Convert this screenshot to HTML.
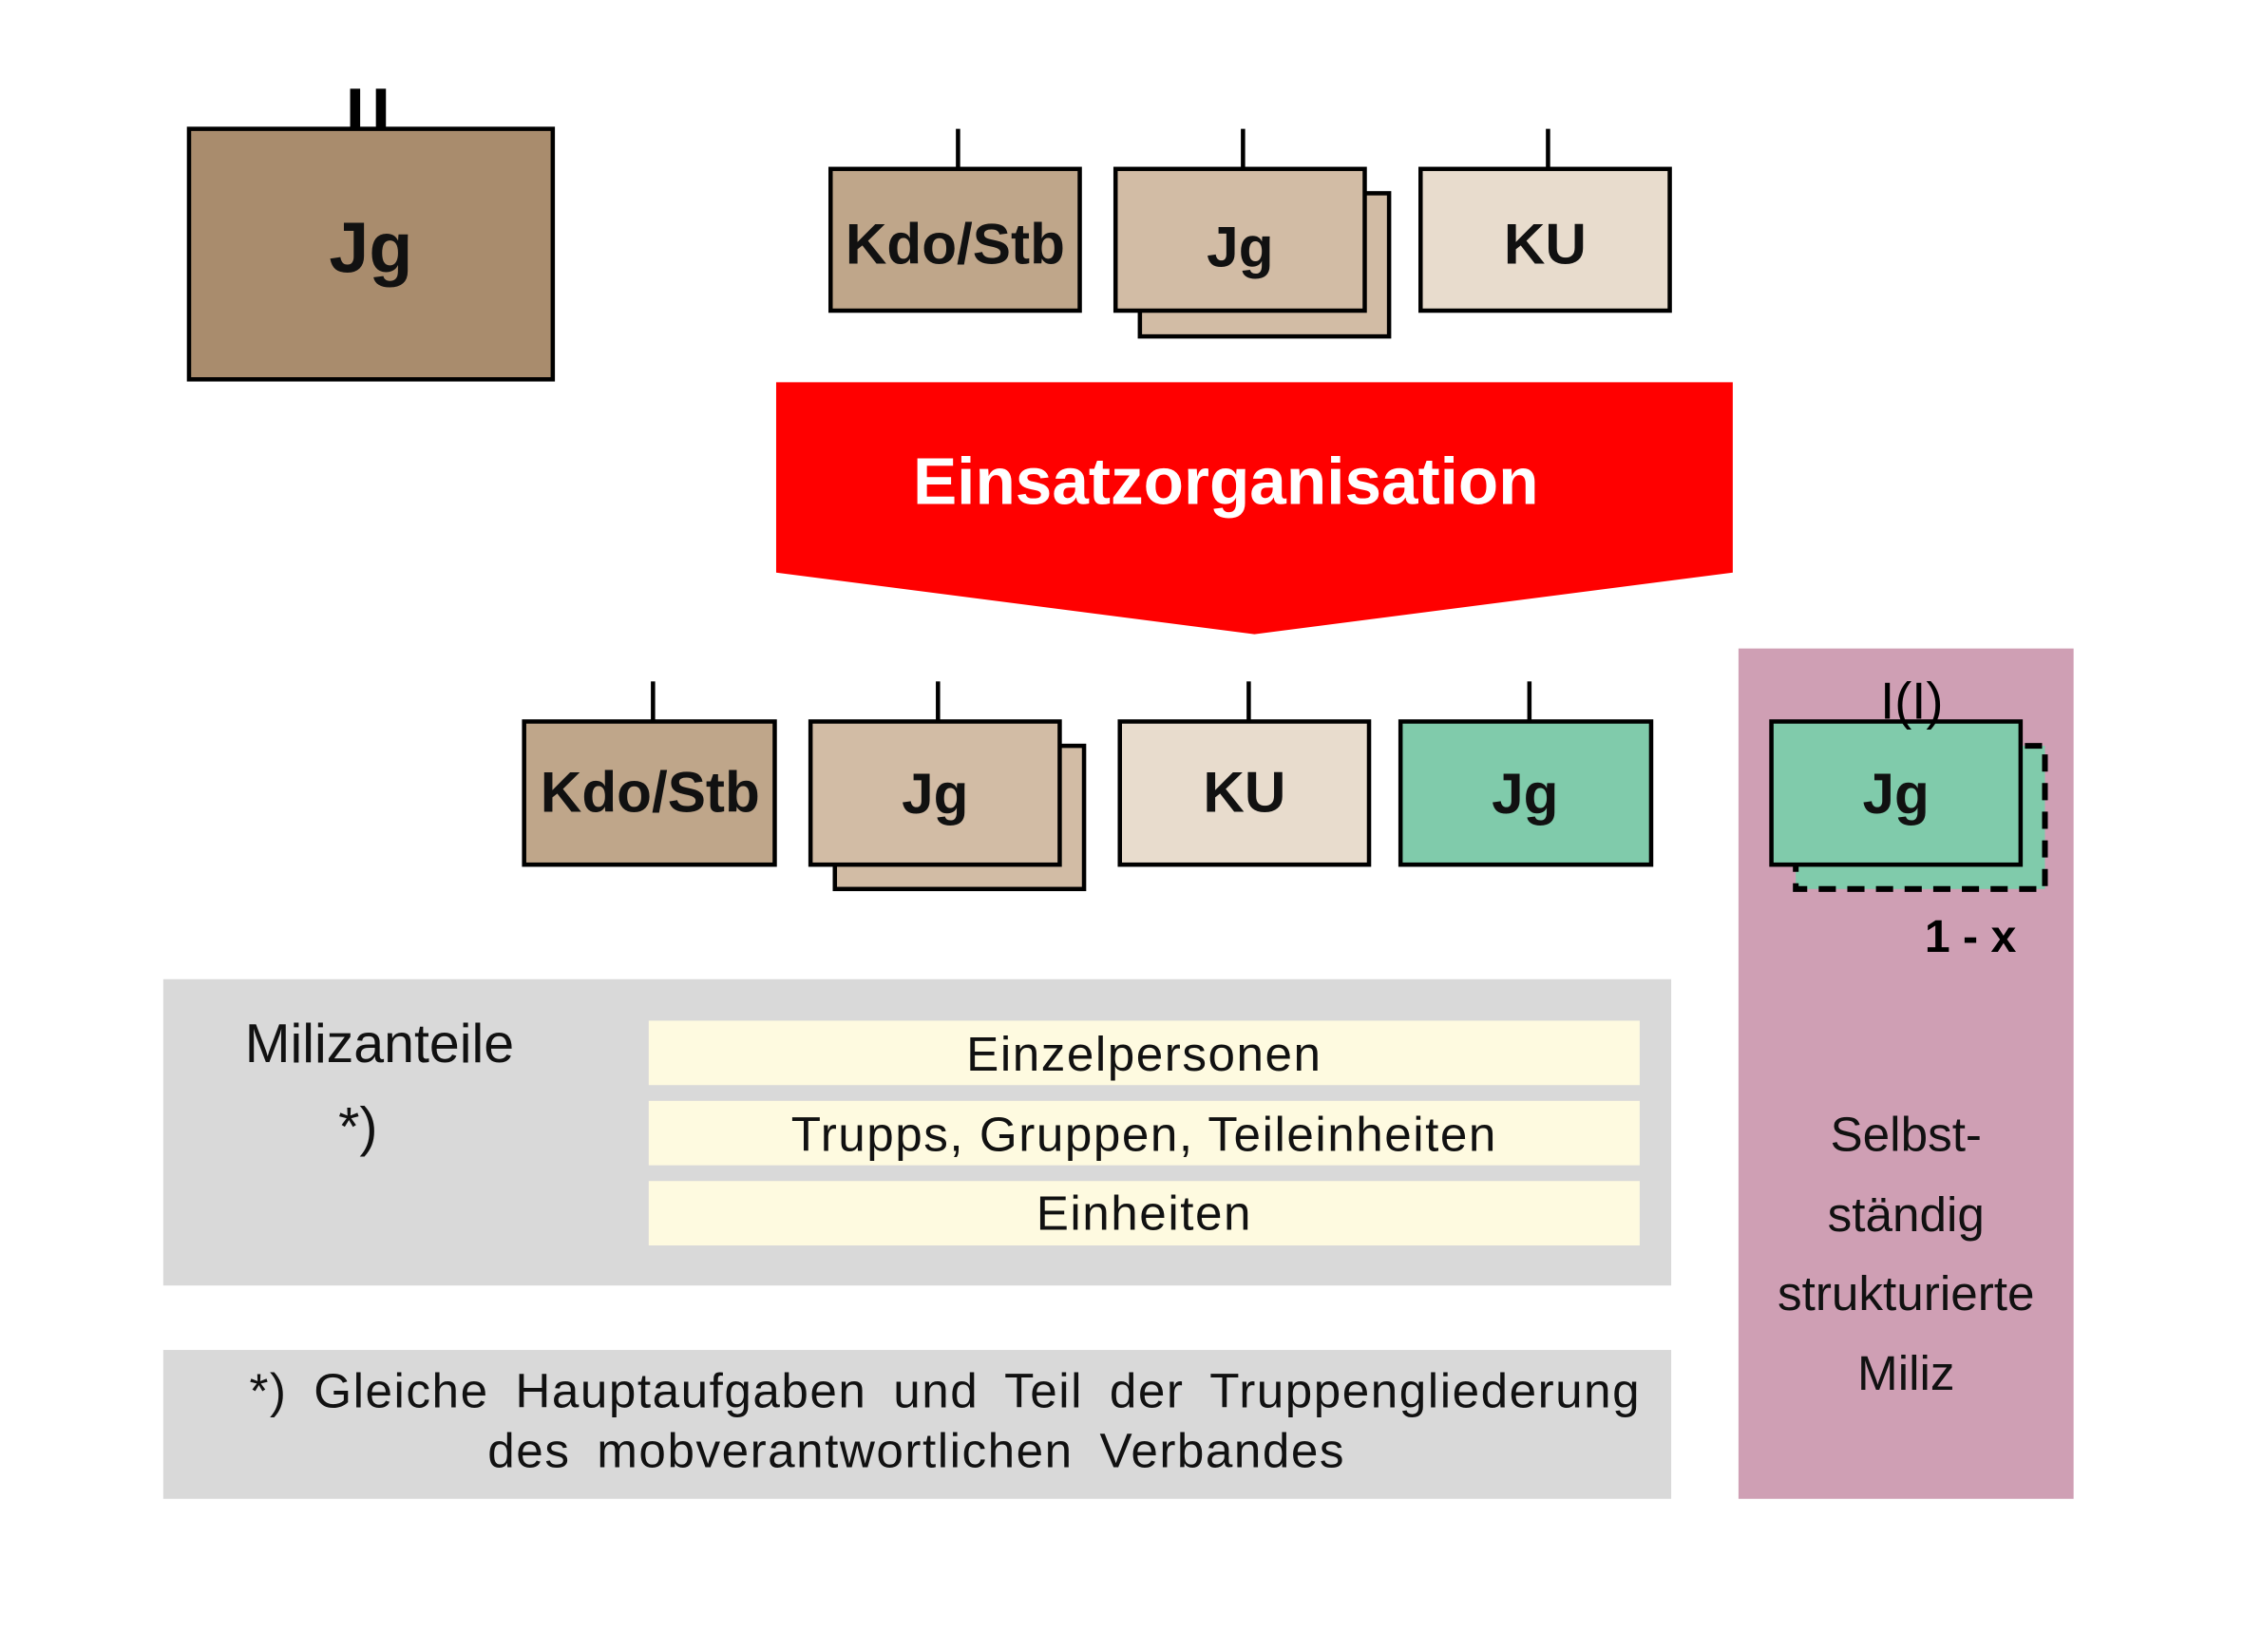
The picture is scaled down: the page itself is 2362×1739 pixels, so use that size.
<!DOCTYPE html>
<html><head><meta charset="utf-8"><style>html,body{margin:0;padding:0;background:#fff}svg{display:block}</style></head>
<body>
<svg width="2362" height="1739" viewBox="0 0 1567 1154" preserveAspectRatio="none" xmlns="http://www.w3.org/2000/svg" font-family="Liberation Sans, sans-serif">
<rect width="1567" height="1154" fill="#fff"/>
<g stroke="#000" stroke-width="3">
<line x1="248" y1="62" x2="248" y2="90" stroke-width="7"/>
<line x1="266" y1="62" x2="266" y2="90" stroke-width="7"/>
<rect x="132" y="90" width="254" height="175" fill="#a98c6d"/>
<line x1="669" y1="90" x2="669" y2="118"/>
<rect x="580" y="118" width="174" height="99" fill="#bfa68a"/>
<line x1="868" y1="90" x2="868" y2="118"/>
<rect x="796" y="135" width="174" height="100" fill="#d2bca5"/>
<rect x="779" y="118" width="174" height="99" fill="#d2bca5"/>
<line x1="1081" y1="90" x2="1081" y2="118"/>
<rect x="992" y="118" width="174" height="99" fill="#e8dccd"/>
<line x1="456" y1="476" x2="456" y2="504"/>
<rect x="366" y="504" width="175" height="100" fill="#bfa68a"/>
<line x1="655" y1="476" x2="655" y2="504"/>
<rect x="583" y="521" width="174" height="100" fill="#d2bca5"/>
<rect x="566" y="504" width="174" height="100" fill="#d2bca5"/>
<line x1="872" y1="476" x2="872" y2="504"/>
<rect x="782" y="504" width="174" height="100" fill="#e8dccd"/>
<line x1="1068" y1="476" x2="1068" y2="504"/>
<rect x="978" y="504" width="175" height="100" fill="#80cbab"/>
</g>
<polygon points="542,267 1210,267 1210,400 876,443 542,400" fill="#ff0000"/>
<text x="856" y="352" fill="#fff" font-size="46" font-weight="bold" text-anchor="middle">Einsatzorganisation</text>
<rect x="1214" y="453" width="234" height="594" fill="#cf9fb4"/>
<rect x="1254" y="521" width="174" height="100" fill="#80cbab" stroke="#000" stroke-width="4" stroke-dasharray="12,8"/>
<rect x="1237" y="504" width="174" height="100" fill="#80cbab" stroke="#000" stroke-width="3"/>
<text x="1335" y="502" font-size="36" text-anchor="middle">I(I)</text>
<text x="1376" y="665" font-size="32" font-weight="bold" text-anchor="middle">1 - x</text>
<g font-size="34" text-anchor="middle" fill="#111">
<text x="1331" y="804">Selbst-</text>
<text x="1331" y="860">ständig</text>
<text x="1331" y="915">strukturierte</text>
<text x="1331" y="971">Miliz</text>
</g>
<g font-weight="bold" text-anchor="middle" fill="#111">
<text x="259" y="190" font-size="50">Jg</text>
<text x="667" y="184" font-size="40">Kdo/Stb</text>
<text x="866" y="186" font-size="40">Jg</text>
<text x="1079" y="184" font-size="40">KU</text>
<text x="454" y="567" font-size="40">Kdo/Stb</text>
<text x="653" y="568" font-size="40">Jg</text>
<text x="869" y="567" font-size="40">KU</text>
<text x="1065" y="568" font-size="40">Jg</text>
<text x="1324" y="568" font-size="40">Jg</text>
</g>
<rect x="114" y="684" width="1053" height="214" fill="#d9d9d9"/>
<text x="265" y="742" font-size="38" text-anchor="middle" fill="#111">Milizanteile</text>
<text x="250" y="800" font-size="38" text-anchor="middle" fill="#111">*)</text>
<rect x="453" y="713" width="692" height="45" fill="#fefae0"/>
<rect x="453" y="769" width="692" height="45" fill="#fefae0"/>
<rect x="453" y="825" width="692" height="45" fill="#fefae0"/>
<g font-size="34" text-anchor="middle" fill="#111">
<text x="799" y="748" letter-spacing="1">Einzelpersonen</text>
<text x="799" y="804" letter-spacing="1">Trupps, Gruppen, Teileinheiten</text>
<text x="799" y="859" letter-spacing="1">Einheiten</text>
</g>
<rect x="114" y="943" width="1053" height="104" fill="#d9d9d9"/>
<g font-size="34" text-anchor="middle" fill="#111" word-spacing="8" letter-spacing="1">
<text x="660" y="983">*) Gleiche Hauptaufgaben und Teil der Truppengliederung</text>
<text x="640" y="1025">des mobverantwortlichen Verbandes</text>
</g>
</svg>
</body></html>
